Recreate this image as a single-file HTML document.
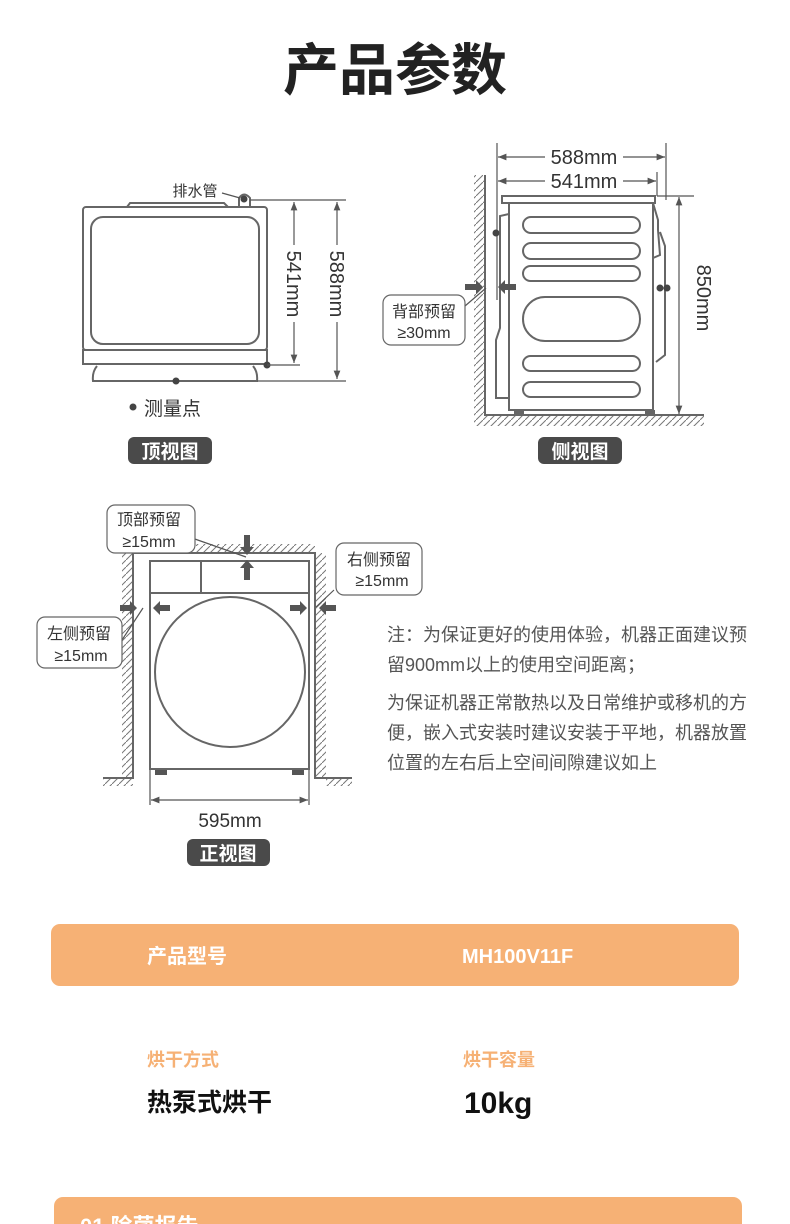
<!DOCTYPE html>
<html><head><meta charset="utf-8"><style>
html,body{margin:0;padding:0;background:#fff;}
body{width:790px;height:1224px;overflow:hidden;position:relative;font-family:"Liberation Sans","Noto Sans CJK SC",sans-serif;}
svg{position:absolute;left:0;top:0;}
text{font-family:"Liberation Sans","Noto Sans CJK SC",sans-serif;}
</style></head><body>
<svg width="790" height="1224" viewBox="0 0 790 1224" xmlns="http://www.w3.org/2000/svg">
<defs>
<pattern id="h" width="7" height="7" patternUnits="userSpaceOnUse"><path d="M-1,8 L8,-1" stroke="#777" stroke-width="1"/></pattern>
<marker id="a" viewBox="0 0 10 10" refX="10" refY="5" markerWidth="7" markerHeight="7" orient="auto-start-reverse"><path d="M0,1 L10,5 L0,9z" fill="#555"/></marker>
</defs>
<text x="395" y="90" text-anchor="middle" font-size="56" font-weight="bold" fill="#222">产品参数</text>

<!-- top view -->
<g stroke="#666" stroke-width="2" fill="none">
<rect x="83" y="207" width="184" height="143" rx="3"/>
<rect x="91" y="217" width="168" height="127" rx="12"/>
<path d="M127,207 L130,203 L224,203 L228,207"/>
<rect x="83" y="350" width="184" height="14"/>
<path d="M97,366 Q92,372 93,381 L257,381 Q258,372 253,366"/>
<path d="M239,207 L239,198 Q244,191 250,198 L250,207"/>
</g>
<path d="M222,193 L240,198" stroke="#555" stroke-width="1.2"/>
<circle cx="244" cy="199" r="3.5" fill="#444"/>
<circle cx="267" cy="365" r="3.5" fill="#444"/>
<circle cx="176" cy="381" r="3.5" fill="#444"/>
<text x="195" y="196" font-size="15" fill="#333" text-anchor="middle">排水管</text>
<g stroke="#555" stroke-width="1.2">
<path d="M250,200 L346,200 M267,365 L300,365 M257,381 L346,381"/>
</g>
<line x1="294" y1="202" x2="294" y2="245" stroke="#555" stroke-width="1.2" marker-start="url(#a)"/>
<line x1="294" y1="322" x2="294" y2="363" stroke="#555" stroke-width="1.2" marker-end="url(#a)"/>
<line x1="337" y1="202" x2="337" y2="245" stroke="#555" stroke-width="1.2" marker-start="url(#a)"/>
<line x1="337" y1="322" x2="337" y2="379" stroke="#555" stroke-width="1.2" marker-end="url(#a)"/>
<text transform="translate(287,284) rotate(90)" font-size="20" fill="#333" text-anchor="middle">541mm</text>
<text transform="translate(330,284) rotate(90)" font-size="20" fill="#333" text-anchor="middle">588mm</text>
<circle cx="133" cy="407" r="3.5" fill="#444"/>
<text x="144" y="415" font-size="19" fill="#333">测量点</text>
<rect x="128" y="437" width="84" height="27" rx="6" fill="#4a4a4a"/>
<text x="170" y="458" font-size="19" fill="#fff" text-anchor="middle" font-weight="bold">顶视图</text>

<!-- side view -->
<rect x="474" y="175" width="11" height="240" fill="url(#h)"/>
<rect x="474" y="415" width="230" height="11" fill="url(#h)"/>
<path d="M485,175 L485,415 L704,415" stroke="#666" stroke-width="2" fill="none"/>
<g stroke="#666" stroke-width="2" fill="none">
<rect x="502" y="196" width="153" height="7"/>
<rect x="509" y="203" width="144" height="207"/>
<path d="M509,214 L500,216 L500,328 L496,340 L496,398 L509,398"/>
<path d="M653,203 L658,220 L658,230 L660,255 L653,258 M660,232 L665,246 L665,355 L656,362"/>
<rect x="523" y="217" width="117" height="16" rx="8"/>
<rect x="523" y="243" width="117" height="16" rx="8"/>
<rect x="523" y="266" width="117" height="15" rx="7.5"/>
<rect x="523" y="297" width="117" height="44" rx="22"/>
<rect x="523" y="356" width="117" height="15" rx="7.5"/>
<rect x="523" y="382" width="117" height="15" rx="7.5"/>
</g>
<rect x="514" y="410" width="10" height="5" fill="#666"/><rect x="645" y="410" width="10" height="5" fill="#666"/>
<g stroke="#555" stroke-width="1.2">
<path d="M497,143 L497,300 M666,143 L666,200 M657,172 L657,196 M657,196 L694,196"/>
<line x1="498" y1="157" x2="545" y2="157" marker-start="url(#a)"/>
<line x1="623" y1="157" x2="665" y2="157" marker-end="url(#a)"/>
<line x1="498" y1="181" x2="545" y2="181" marker-start="url(#a)"/>
<line x1="623" y1="181" x2="656" y2="181" marker-end="url(#a)"/>
<line x1="679" y1="197" x2="679" y2="414" marker-start="url(#a)" marker-end="url(#a)"/>
<path d="M465,306 L486,288"/>
</g>
<rect x="546" y="145" width="76" height="24" fill="#fff"/>
<text x="584" y="164" font-size="20" fill="#333" text-anchor="middle">588mm</text>
<rect x="546" y="170" width="76" height="22" fill="#fff"/>
<text x="584" y="188" font-size="20" fill="#333" text-anchor="middle">541mm</text>
<text transform="translate(697,298) rotate(90)" font-size="20" fill="#333" text-anchor="middle">850mm</text>
<circle cx="496" cy="233" r="3.5" fill="#444"/>
<circle cx="660" cy="288" r="3.5" fill="#444"/><circle cx="667" cy="288" r="3.5" fill="#444"/>
<circle cx="504" cy="287" r="3" fill="#444"/>
<path d="M465,284 L476,284 L476,280 L483,287 L476,294 L476,290 L465,290z" fill="#555"/>
<path d="M516,284 L505,284 L505,280 L498,287 L505,294 L505,290 L516,290z" fill="#555"/>
<rect x="383" y="295" width="82" height="50" rx="8" fill="#fff" stroke="#666" stroke-width="1.2"/>
<text x="424" y="317" font-size="16" fill="#333" text-anchor="middle">背部预留</text>
<text x="424" y="338" font-size="16" fill="#333" text-anchor="middle">≥30mm</text>
<rect x="538" y="437" width="84" height="27" rx="6" fill="#4a4a4a"/>
<text x="580" y="458" font-size="19" fill="#fff" text-anchor="middle" font-weight="bold">侧视图</text>

<!-- front view -->
<rect x="196" y="544" width="119" height="9" fill="url(#h)"/>
<rect x="122" y="553" width="11" height="225" fill="url(#h)"/>
<rect x="103" y="778" width="30" height="8" fill="url(#h)"/>
<rect x="315" y="553" width="11" height="225" fill="url(#h)"/>
<rect x="326" y="778" width="26" height="8" fill="url(#h)"/>
<path d="M103,778 L133,778 L133,553 L315,553 L315,778 L352,778" stroke="#666" stroke-width="2" fill="none"/>
<g stroke="#666" stroke-width="2" fill="none">
<rect x="150" y="561" width="159" height="208"/>
<line x1="150" y1="593" x2="309" y2="593"/>
<line x1="201" y1="561" x2="201" y2="593"/>
<circle cx="230" cy="672" r="75"/>
</g>
<rect x="155" y="770" width="12" height="5" fill="#555"/><rect x="292" y="770" width="12" height="5" fill="#555"/>
<g stroke="#555" stroke-width="1.2">
<path d="M150,770 L150,805 M309,770 L309,805"/>
<line x1="151" y1="800" x2="308" y2="800" marker-start="url(#a)" marker-end="url(#a)"/>
<path d="M192,538 L246,557 M122,640 L143,608 M334,590 L316,607"/>
</g>
<path d="M244,535 L250,535 L250,547 L254,547 L247,555 L240,547 L244,547z" fill="#555"/>
<path d="M244,580 L250,580 L250,568 L254,568 L247,560 L240,568 L244,568z" fill="#555"/>
<path d="M120,605 L130,605 L130,601 L137,608 L130,615 L130,611 L120,611z" fill="#555"/>
<path d="M170,605 L160,605 L160,601 L153,608 L160,615 L160,611 L170,611z" fill="#555"/>
<path d="M290,605 L300,605 L300,601 L307,608 L300,615 L300,611 L290,611z" fill="#555"/>
<path d="M336,605 L326,605 L326,601 L319,608 L326,615 L326,611 L336,611z" fill="#555"/>
<rect x="107" y="505" width="88" height="48" rx="8" fill="#fff" stroke="#666" stroke-width="1.2"/>
<text x="149" y="525" font-size="16" fill="#333" text-anchor="middle">顶部预留</text>
<text x="149" y="547" font-size="16" fill="#333" text-anchor="middle">≥15mm</text>
<rect x="336" y="543" width="86" height="52" rx="8" fill="#fff" stroke="#666" stroke-width="1.2"/>
<text x="379" y="565" font-size="16" fill="#333" text-anchor="middle">右侧预留</text>
<text x="382" y="586" font-size="16" fill="#333" text-anchor="middle">≥15mm</text>
<rect x="37" y="617" width="85" height="51" rx="8" fill="#fff" stroke="#666" stroke-width="1.2"/>
<text x="79" y="639" font-size="16" fill="#333" text-anchor="middle">左侧预留</text>
<text x="81" y="661" font-size="16" fill="#333" text-anchor="middle">≥15mm</text>
<text x="230" y="827" font-size="19" fill="#333" text-anchor="middle">595mm</text>
<rect x="187" y="839" width="83" height="27" rx="6" fill="#4a4a4a"/>
<text x="228" y="860" font-size="19" fill="#fff" text-anchor="middle" font-weight="bold">正视图</text>

<g font-size="18" fill="#555">
<text x="387" y="641">注：为保证更好的使用体验，机器正面建议预</text>
<text x="387" y="671">留900mm以上的使用空间距离；</text>
<text x="387" y="709">为保证机器正常散热以及日常维护或移机的方</text>
<text x="387" y="739">便，嵌入式安装时建议安装于平地，机器放置</text>
<text x="387" y="769">位置的左右后上空间间隙建议如上</text>
</g>

<rect x="51" y="924" width="688" height="62" rx="9" fill="#F6B175"/>
<text x="147" y="963" font-size="20" font-weight="bold" fill="#fff">产品型号</text>
<text x="462" y="963" font-size="20" font-weight="bold" fill="#fff">MH100V11F</text>
<text x="147" y="1066" font-size="18" font-weight="bold" fill="#F6B175">烘干方式</text>
<text x="463" y="1066" font-size="18" font-weight="bold" fill="#F6B175">烘干容量</text>
<text x="147" y="1111" font-size="25" font-weight="bold" fill="#111">热泵式烘干</text>
<text x="464" y="1113" font-size="30" font-weight="bold" fill="#111">10kg</text>
<rect x="54" y="1197" width="688" height="60" rx="9" fill="#F6B175"/>
<text x="80" y="1234" font-size="22" font-weight="bold" fill="#fff">01  除菌报告</text>
</svg>
</body></html>
